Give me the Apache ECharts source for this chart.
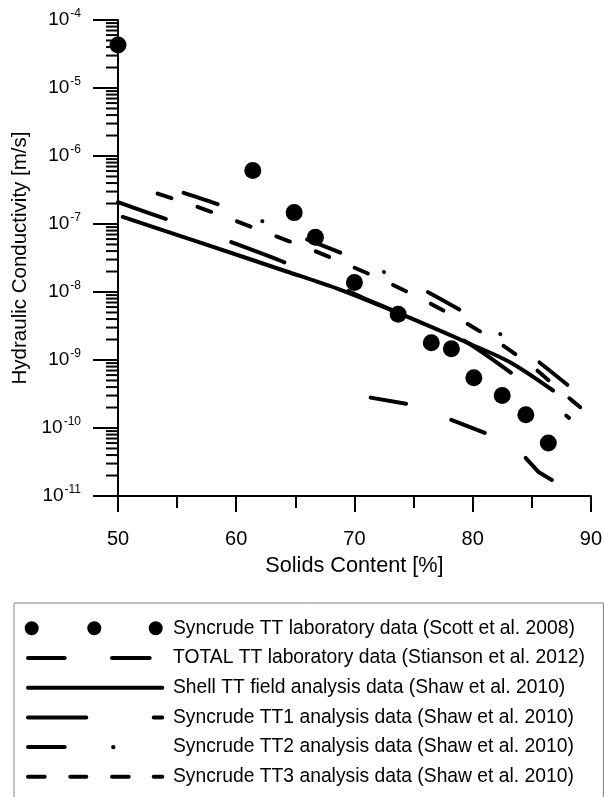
<!DOCTYPE html>
<html><head><meta charset="utf-8">
<script src="https://cdn.jsdelivr.net/npm/echarts@6/dist/echarts.min.js"></script>
<style>html,body{margin:0;padding:0;background:#fff}#c{width:605px;height:797px}</style>
</head><body><div id="c"></div>
<script>
const FONT = '"Liberation Sans", Arial, Helvetica, sans-serif';

// ---- tick labels ----
const xTicks = [50, 60, 70, 80, 90];
const yTickExponents = [-11, -10, -9, -8, -7, -6, -5, -4];
const minorMantissas = [2, 3, 4, 5, 6, 7, 8, 9];

// ---- series names ----
const seriesNames = [
  'Syncrude TT laboratory data (Scott et al. 2008)',
  'TOTAL TT laboratory data (Stianson et al. 2012)',
  'Shell TT field analysis data (Shaw et al. 2010)',
  'Syncrude TT1 analysis data (Shaw et al. 2010)',
  'Syncrude TT2 analysis data (Shaw et al. 2010)',
  'Syncrude TT3 analysis data (Shaw et al. 2010)'
];

// ---- data (solids %, hydraulic conductivity m/s) ----
const scottX = [50.0, 61.4, 64.9, 66.7, 70.0, 73.7, 76.5, 78.2, 80.1, 82.5, 84.5, 86.4];
const scottY = [4.3e-5, 6.1e-7, 1.47e-7, 6.4e-8, 1.38e-8, 4.7e-9, 1.8e-9, 1.46e-9, 5.5e-10, 3.0e-10, 1.57e-10, 6.0e-11];

const totalX = [71.2, 74.5, 78.0, 81.1, 84.3, 85.6, 86.7];
const totalY = [2.83e-10, 2.26e-10, 1.36e-10, 8.4e-11, 3.93e-11, 2.23e-11, 1.72e-11];

const shellX = [50.4, 56.9, 64.2, 68.6, 74.2, 79.8, 83.2, 86.8];
const shellY = [1.27e-7, 5.37e-8, 2.02e-8, 1.11e-8, 4.52e-9, 1.72e-9, 9.2e-10, 3.56e-10];

const tt1X = [50.0, 54.2, 59.4, 64.15, 71.15, 79.0, 83.2, 88.15];
const tt1Y = [2.09e-7, 1.16e-7, 5.56e-8, 2.7e-8, 7.6e-9, 2.05e-9, 6.6e-10, 1.41e-10];

const tt2X = [55.4, 58.55, 62.2, 65.8, 68.9, 72.4, 76.05, 79.0, 82.3, 85.45, 88.1];
const tt2Y = [2.93e-7, 1.93e-7, 1.10e-7, 6.1e-8, 3.74e-8, 2.0e-8, 1.03e-8, 5.36e-9, 2.43e-9, 9.8e-10, 4.2e-10];

const tt3X = [53.2, 56.6, 59.95, 63.3, 66.5, 69.75, 72.95, 76.2, 79.3, 82.35, 85.3, 87.9, 89.1];
const tt3Y = [2.86e-7, 1.82e-7, 1.11e-7, 6.65e-8, 4.1e-8, 2.38e-8, 1.35e-8, 7.1e-9, 3.6e-9, 1.73e-9, 7.4e-10, 3.0e-10, 2.02e-10];

function pairs(xs, ys) { return xs.map((x, i) => [x, ys[i]]); }

// minor tick values of the log axis (2..9 x 10^k)
const minorTickValues = [];
yTickExponents.slice(0, -1).forEach(e => minorMantissas.forEach(m => minorTickValues.push(m * Math.pow(10, e))));

// ---- legend icons (box 144 x 14) ----
function dash(a, b) { return 'M' + a + ' 5 L' + b + ' 5 A2 2 0 0 1 ' + b + ' 9 L' + a + ' 9 A2 2 0 0 1 ' + a + ' 5 Z '; }
function circ(cx, r) { return 'M' + (cx - r) + ' 7 A' + r + ' ' + r + ' 0 1 0 ' + (cx + r) + ' 7 A' + r + ' ' + r + ' 0 1 0 ' + (cx - r) + ' 7 Z '; }
const frame = 'M0 0 M144 14 ';
const legendIcons = [
  'path://' + frame + circ(7.7, 7) + circ(70.3, 7) + circ(131.7, 7),
  'path://' + frame + dash(4, 40.7) + dash(88, 125.7),
  'path://' + frame + dash(4, 138.3),
  'path://' + frame + dash(4, 62.3) + dash(129.7, 138.3),
  'path://' + frame + dash(4, 40.7) + circ(89.3, 2.2),
  'path://' + frame + dash(4, 20.7) + dash(46.3, 62.3) + dash(88, 104.7) + dash(129.7, 138.3)
];

function lineSeries(name, xs, ys, dashArr, offset, smooth) {
  return {
    name: name, type: 'line', data: pairs(xs, ys), symbol: 'none', z: 3, smooth: smooth,
    lineStyle: { color: '#000', width: 4, type: dashArr, dashOffset: offset, cap: 'round', join: 'round' }
  };
}

const chart = echarts.init(document.getElementById('c'), null, { renderer: 'canvas' });
chart.setOption({
  animation: false,
  color: ['#000'],
  textStyle: { fontFamily: FONT, color: '#000' },
  grid: { left: 118, right: 11, top: 20, bottom: 301, containLabel: false },
  xAxis: {
    type: 'value', min: xTicks[0], max: xTicks[xTicks.length - 1], interval: xTicks[1] - xTicks[0],
    axisLine: { onZero: false, lineStyle: { color: '#000', width: 2 } },
    axisTick: { length: 16, lineStyle: { color: '#000', width: 2 } },
    minorTick: { show: true, splitNumber: 2, length: 12, lineStyle: { color: '#000', width: 2 } },
    axisLabel: { margin: 33, fontSize: 20, color: '#000', fontFamily: FONT },
    splitLine: { show: false },
    name: 'Solids Content [%]', nameLocation: 'middle', nameGap: 59,
    nameTextStyle: { fontSize: 21.7, color: '#000', fontFamily: FONT }
  },
  yAxis: {
    type: 'log', logBase: 10,
    min: Math.pow(10, yTickExponents[0]), max: Math.pow(10, yTickExponents[yTickExponents.length - 1]),
    interval: 1,
    axisLine: { show: true, onZero: false, lineStyle: { color: '#000', width: 2 } },
    axisTick: { show: true, length: 25, lineStyle: { color: '#000', width: 2 } },
    axisLabel: {
      margin: 37, color: '#000',
      formatter: v => '{b|10}{s|' + Math.round(Math.log10(v)) + '}',
      rich: {
        b: { fontSize: 19, lineHeight: 24, fontFamily: FONT, color: '#000' },
        s: { fontSize: 12, lineHeight: 12, verticalAlign: 'top', fontFamily: FONT, color: '#000', padding: [0, 0, 0, 1] }
      }
    },
    splitLine: { show: false },
    name: 'Hydraulic Conductivity [m/s]', nameLocation: 'middle', nameGap: 85, nameRotate: 90,
    nameTextStyle: { fontSize: 20.5, color: '#000', fontFamily: FONT }
  },
  legend: {
    orient: 'vertical', left: 14, top: 603, height: 400,
    padding: [15.3, 18.5, 30, 10],
    itemWidth: 144, itemHeight: 14, itemGap: 9.7,
    borderColor: '#808080', borderWidth: 1,
    selectedMode: false,
    textStyle: { fontSize: 19.3, lineHeight: 20, color: '#000', fontFamily: FONT },
    data: seriesNames.map((n, i) => ({ name: n, icon: legendIcons[i] }))
  },
  series: [
    {
      name: 'minor ticks', type: 'custom', coordinateSystem: 'cartesian2d', silent: true, z: 2,
      data: minorTickValues.map(v => [xTicks[0], v]),
      renderItem: function (params, api) {
        const p = api.coord([api.value(0), api.value(1)]);
        return { type: 'line', shape: { x1: p[0] - 12, y1: p[1], x2: p[0], y2: p[1] }, style: { stroke: '#000', lineWidth: 2 } };
      }
    },
    lineSeries(seriesNames[1], totalX, totalY, [36, 48], -2, false),
    lineSeries(seriesNames[2], shellX, shellY, 'solid', 0, 0.3),
    lineSeries(seriesNames[3], tt1X, tt1Y, [56.5, 70], 6.2, 0.2),
    lineSeries(seriesNames[4], tt2X, tt2Y, [35.5, 48, 0.1, 48.4], -2, 0.2),
    lineSeries(seriesNames[5], tt3X, tt3Y, [14.5, 27.6], -2, 0.2),
    {
      name: seriesNames[0], type: 'scatter', data: pairs(scottX, scottY), symbol: 'circle', symbolSize: 17, z: 5,
      itemStyle: { color: '#000', opacity: 1 }
    }
  ]
});
</script></body></html>
